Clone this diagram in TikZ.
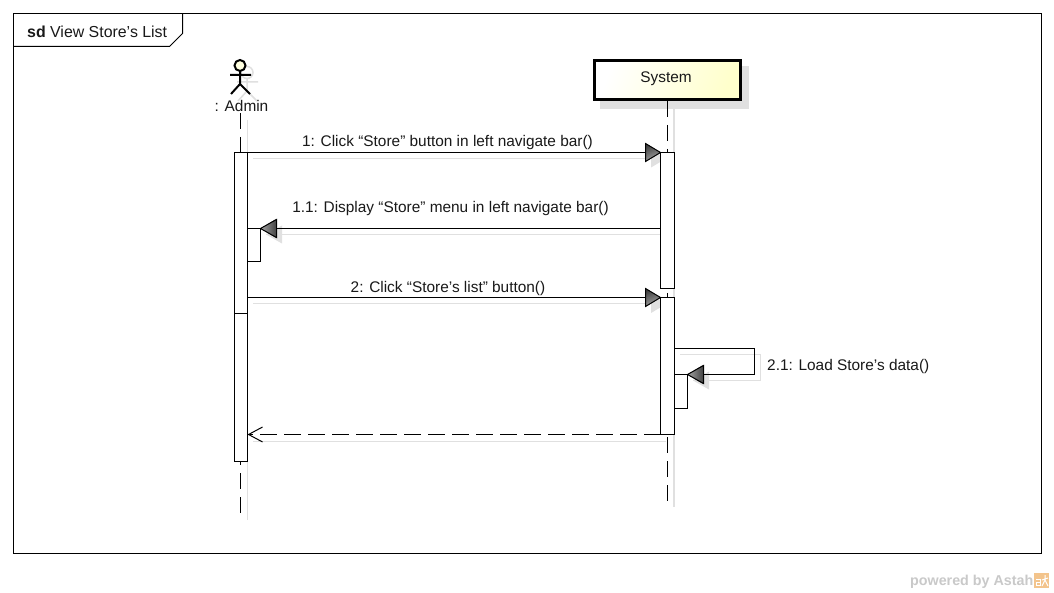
\documentclass[tikz,border=0pt]{standalone}
\usepackage{fontspec}
\setmainfont{Liberation Sans}
\usetikzlibrary{arrows.meta,calc}
\definecolor{shadowgray}{HTML}{E0E0E0}
\definecolor{boxyellow}{HTML}{FFFFCC}
\definecolor{wmgray}{HTML}{C9C9C9}
\definecolor{logoorange}{HTML}{F3C48C}
\tikzset{
  x=1pt,y=-1pt,
  ink/.style={line width=1pt,draw=black},
  shadowline/.style={line width=1pt,draw=shadowgray},
  act/.style={rectangle,draw=black,line width=1pt,fill=white,inner sep=0pt,outer sep=0pt},
  lifeline/.style={line width=1pt,draw=black,dash pattern=on 16pt off 8pt},
  shadowlife/.style={line width=1.4pt,draw=shadowgray},
  label/.style={inner sep=0pt,font=\fontsize{15.4pt}{18pt}\selectfont,text=black!90},
  msg/.style={ink,-{Triangle[length=15pt,width=18pt,fill=gray]}},
  ret/.style={ink,dash pattern=on 17pt off 7pt,-{Straight Barb[length=14pt,width=15pt,line width=1pt]}},
  headshade/.style={draw=black,line width=1pt,shading=axis,left color=black!75,right color=black!35,shading angle=20},
  ghost/.style={fill=shadowgray,draw=none},
}
\newcommand{\headR}[1]{\shade[headshade] ($#1$) -- ++(-15,-9) -- ++(0,18) -- cycle;}
\newcommand{\headL}[1]{\shade[headshade,left color=black!35,right color=black!75] ($#1$) -- ++(16,-9) -- ++(0,18) -- cycle;}
\begin{document}
\begin{tikzpicture}
\useasboundingbox (0,0) rectangle (1054,593);
\fill[white] (0,0) rectangle (1054,593);

% frame
\node[draw=black,line width=1pt,inner sep=0pt,minimum width=1028pt,minimum height=540pt,anchor=north west] (frame) at (13,13) {};
\draw[ink] (13.5,46.5) -- (169.5,46.5) -- (182.5,33.5) -- (182.5,13.5);
\node[label,anchor=west,font=\fontsize{15.9pt}{18pt}\selectfont] (title) at (27,32) {\textbf{sd} View Store's List};

% shadows
\fill[shadowgray] (600,66) rectangle (749,109);
\draw[shadowlife] (247.5,120) -- (247.5,520);
\draw[shadowlife] (674,109) -- (674,507);
\draw[shadowline] (253,158.5) -- (666,158.5);
\draw[shadowline] (666,234.5) -- (266,234.5);
\draw[shadowline] (253,304) -- (666,304);
\draw[shadowline] (680,354.5) -- (760.5,354.5) -- (760.5,380.5) -- (693,380.5);
\draw[shadowline] (666,441) -- (253,441);
\fill[ghost] (666,158.5) -- ++(-15,-9) -- ++(0,18) -- cycle;
\fill[ghost] (266,234.5) -- ++(16,-9) -- ++(0,18) -- cycle;
\fill[ghost] (666,304) -- ++(-15,-9) -- ++(0,18) -- cycle;
\fill[ghost] (693,380.5) -- ++(16,-9) -- ++(0,18) -- cycle;
\begin{scope}[shift={(7,7)},draw=shadowgray,line width=1.5pt]
  \draw (240,65.5) circle[radius=6];
  \draw (240,71) -- (240,84) (230,75) -- (251,75) (240,84) -- (231,94) (240,84) -- (250,94);
\end{scope}

% actor
\draw[line width=2pt,fill=boxyellow!60] (240,65.5) circle[radius=5.5];
\draw[line width=2pt] (240,71) -- (240,84) (230,75) -- (251,75) (240,84) -- (231,94) (240,84) -- (250,94);
\node[label] (admin) at (241.5,106) {: Admin};
\coordinate (adminTop) at (240.5,113);
\coordinate (adminEnd) at (240.5,515);

% system
\node[draw=black,line width=3pt,inner sep=0pt,minimum width=145.5pt,minimum height=38.5pt,anchor=north west,
  shading=axis,left color=white,right color=boxyellow,shading angle=70] (system) at (593,59.5) {};
\node[label] (systemText) at (666,79) {System};
\coordinate (sysEnd) at (667.5,505);

% lifelines
\draw[lifeline] (adminTop) -- (adminEnd);
\draw[lifeline] (system.south -| sysEnd) -- (sysEnd);

% activations
\node[act,anchor=north west,minimum width=13pt,minimum height=161.5pt] (a1) at (234.5,152.5) {};
\node[act,anchor=north west,minimum width=13pt,minimum height=147.5pt] (a1b) at (234.5,314) {};
\node[act,anchor=north west,minimum width=13pt,minimum height=33.5pt] (a2) at (247.5,228.5) {};
\node[act,anchor=north west,minimum width=13.5pt,minimum height=136pt] (s1) at (660.5,152.5) {};
\node[act,anchor=north west,minimum width=13.5pt,minimum height=137pt] (s2) at (660.5,297.5) {};
\node[act,anchor=north west,minimum width=13.5pt,minimum height=33.5pt] (s3) at (674,374.5) {};
\coordinate (selfA) at (754.5,348.5);
\coordinate (selfB) at (754.5,374.5);

% messages
\draw[msg] (a1.north east) -- (s1.north west);
\headR{(s1.north west)}
\draw[msg] (s1.west |- a2.north east) -- (a2.north east);
\headL{(a2.north east)}
\draw[msg] (a1.east |- s2.north) -- (s2.north west);
\headR{(s2.north west)}
\draw[ink] (s2.east |- selfA) -- (selfA) -- (selfB);
\draw[msg] (selfB) -- (s3.north east);
\headL{(s3.north east)}
\draw[ret] (s2.south west) -- (a1b.east |- s2.south);

% labels
\node[label] (m1) at (447.5,143) {1: Click “Store” button in left navigate bar()};
\node[label] (m11) at (450.5,209) {1.1: Display “Store” menu in left navigate bar()};
\node[label] (m2) at (448,289) {2: Click “Store’s list” button()};
\node[label,anchor=west] (m21) at (767,367) {2.1: Load Store's data()};

% watermark
\node[inner sep=0pt,anchor=east,text=wmgray,font=\bfseries\fontsize{14.3pt}{16pt}\selectfont] (wm) at (1033.5,581.5) {powered by Astah};
\fill[logoorange] (1034,573) rectangle (1049,588);
\draw[white,line width=1pt] (1036,579) -- (1040,579) -- (1040,585) -- (1036,585) -- (1036,582) -- (1040,582);
\draw[white,line width=1pt] (1042,580) -- (1048,578) (1045,575) -- (1045,580) -- (1042,586) (1045,580) -- (1048,586);
\end{tikzpicture}
\end{document}
